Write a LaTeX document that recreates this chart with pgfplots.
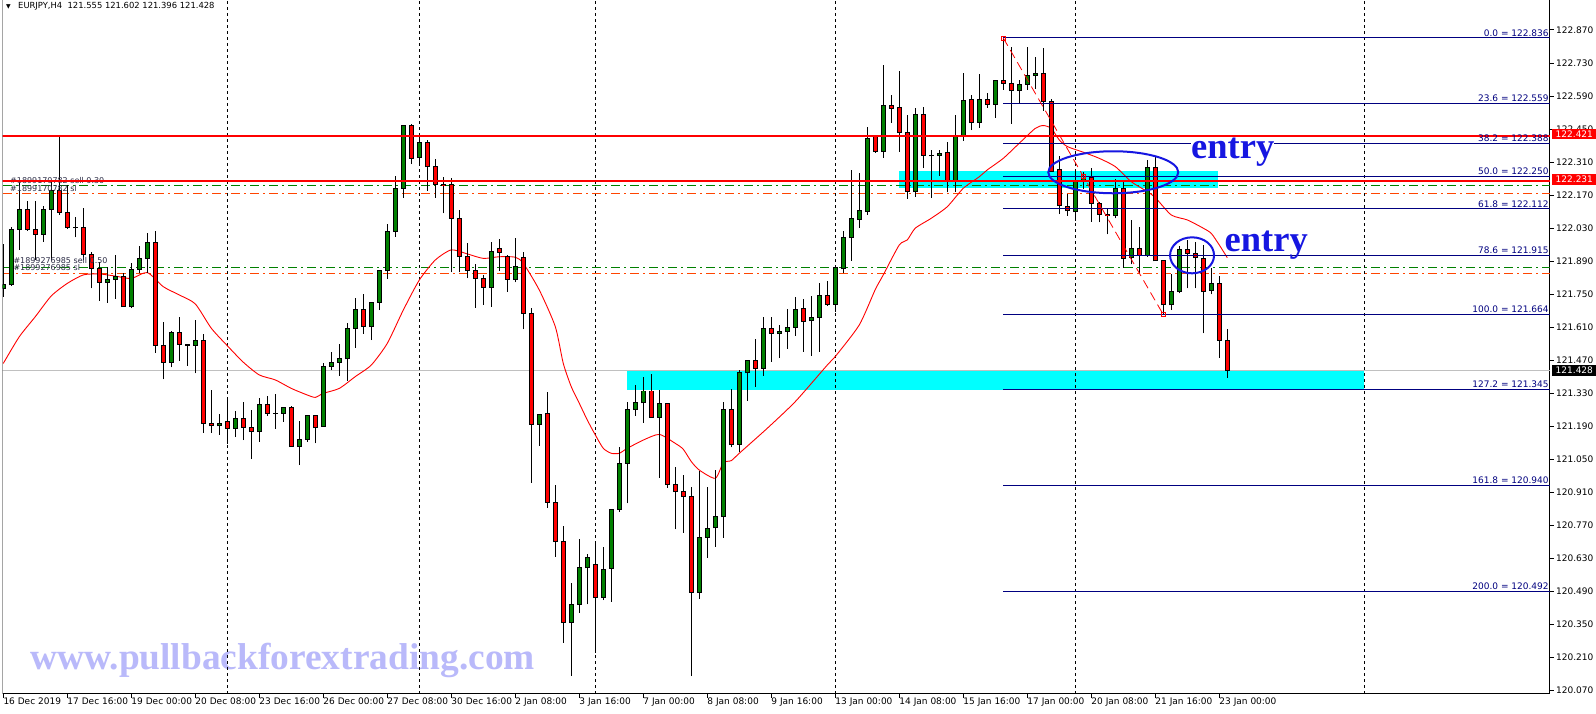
\documentclass[border=0pt]{standalone}
\usepackage{fontspec}
\setmainfont{DejaVu Sans}
\newfontfamily\serifLS{Liberation Serif}
\usepackage{pgfplots}
\usepackage{pgfplotstable}
\pgfplotsset{compat=1.18}
\definecolor{cgreen}{RGB}{0,128,0}
\definecolor{cred}{RGB}{255,0,0}
\definecolor{fibnavy}{RGB}{0,0,128}
\definecolor{oranged}{RGB}{255,69,0}
\definecolor{entryblue}{RGB}{22,22,225}
\definecolor{wmark}{RGB}{185,185,250}
\definecolor{lbltxt}{RGB}{45,45,70}
\definecolor{zonecyan}{RGB}{0,255,255}

\pgfplotstableread{
i O H L C
0 121.775 121.963 121.740 121.792
1 121.791 122.037 121.787 122.025
2 122.025 122.220 121.938 122.110
5 122.004 122.124 121.973 122.110
6 122.110 122.227 121.895 122.189
13 121.801 121.867 121.714 121.813
14 121.813 121.916 121.730 121.825
16 121.698 121.884 121.690 121.856
17 121.856 121.955 121.839 121.902
18 121.902 122.011 121.842 121.970
21 121.462 121.596 121.440 121.589
24 121.534 121.641 121.415 121.552
27 121.192 121.243 121.155 121.203
29 121.182 121.255 121.144 121.223
32 121.168 121.309 121.125 121.284
35 121.245 121.272 121.210 121.272
37 121.104 121.213 121.026 121.135
38 121.135 121.238 121.125 121.238
40 121.190 121.457 121.190 121.445
41 121.445 121.504 121.429 121.462
42 121.462 121.539 121.405 121.476
43 121.476 121.627 121.384 121.606
44 121.606 121.733 121.524 121.686
46 121.613 121.716 121.556 121.716
47 121.716 121.853 121.683 121.849
48 121.849 122.048 121.816 122.017
49 122.017 122.251 121.994 122.199
50 122.199 122.467 122.159 122.467
52 122.329 122.432 122.305 122.394
61 121.779 121.973 121.698 121.930
64 121.813 121.990 121.800 121.867
67 121.199 121.241 121.108 121.241
71 120.358 120.528 120.134 120.436
72 120.436 120.713 120.401 120.593
73 120.590 120.649 120.436 120.635
75 120.466 120.679 120.454 120.584
76 120.589 120.839 120.447 120.839
77 120.839 121.103 120.829 121.034
78 121.034 121.292 120.864 121.262
79 121.262 121.365 121.236 121.292
80 121.290 121.401 121.206 121.340
82 121.228 121.344 120.973 121.285
87 120.485 121.002 120.459 120.720
88 120.720 120.932 120.634 120.758
89 120.760 121.005 120.680 120.810
90 120.808 121.295 120.718 121.262
92 121.115 121.429 121.083 121.419
93 121.417 121.471 121.299 121.471
95 121.436 121.652 121.405 121.606
97 121.583 121.620 121.479 121.594
98 121.594 121.688 121.518 121.610
99 121.610 121.737 121.575 121.686
101 121.637 121.743 121.489 121.652
102 121.651 121.796 121.507 121.743
104 121.707 121.863 121.676 121.863
105 121.858 122.018 121.839 121.991
106 121.990 122.277 121.893 122.069
107 122.068 122.265 122.032 122.103
108 122.100 122.460 122.086 122.411
110 122.354 122.722 122.329 122.548
114 122.185 122.541 122.164 122.513
117 122.337 122.361 122.253 122.347
119 122.234 122.510 122.185 122.422
120 122.420 122.689 122.400 122.573
122 122.477 122.682 122.456 122.576
124 122.555 122.654 122.498 122.654
127 122.613 122.658 122.559 122.640
128 122.640 122.797 122.616 122.679
129 122.677 122.754 122.620 122.686
134 122.100 122.274 122.062 122.230
135 122.227 122.270 122.196 122.239
139 122.083 122.239 122.072 122.199
141 121.905 122.065 121.877 121.945
143 121.914 122.319 121.909 122.288
146 121.705 121.835 121.683 121.761
147 121.761 121.955 121.754 121.940
151 121.765 121.863 121.750 121.796
}\candlesUp

\pgfplotstableread{
i O H L C
3 122.110 122.147 122.020 122.025
4 122.025 122.147 121.895 122.004
7 122.189 122.425 122.086 122.097
8 122.097 122.213 122.027 122.032
9 122.032 122.076 121.991 122.031
10 122.031 122.114 121.895 121.919
11 121.919 121.931 121.775 121.860
12 121.860 121.888 121.723 121.801
15 121.825 121.839 121.698 121.698
19 121.970 122.018 121.503 121.534
20 121.534 121.633 121.389 121.462
22 121.589 121.652 121.469 121.538
23 121.538 121.540 121.446 121.534
25 121.552 121.580 121.163 121.203
26 121.203 121.344 121.163 121.192
28 121.210 121.309 121.115 121.182
30 121.223 121.295 121.132 121.186
31 121.186 121.260 121.051 121.168
33 121.284 121.319 121.236 121.245
34 121.245 121.327 121.179 121.245
36 121.272 121.275 121.104 121.104
39 121.238 121.240 121.118 121.185
45 121.686 121.751 121.582 121.613
51 122.467 122.470 122.302 122.326
53 122.394 122.404 122.188 122.291
54 122.291 122.322 122.159 122.217
55 122.217 122.246 122.093 122.212
56 122.217 122.241 121.843 122.072
57 122.072 122.107 121.843 121.909
58 121.909 121.966 121.818 121.850
59 121.850 121.878 121.693 121.818
60 121.818 121.832 121.705 121.779
62 121.945 121.985 121.850 121.929
63 121.912 121.915 121.761 121.813
65 121.907 121.931 121.601 121.669
66 121.669 121.690 120.952 121.199
68 121.245 121.334 120.846 120.868
69 120.868 120.942 120.638 120.702
70 120.702 120.768 120.273 120.358
74 120.605 120.704 120.231 120.466
81 121.340 121.412 121.228 121.228
83 121.285 121.288 120.930 120.945
84 120.945 121.017 120.754 120.913
85 120.916 120.984 120.740 120.892
86 120.895 120.935 120.132 120.487
91 121.262 121.349 121.101 121.115
94 121.471 121.560 121.358 121.436
96 121.606 121.652 121.464 121.584
100 121.690 121.729 121.507 121.634
103 121.743 121.806 121.702 121.707
109 122.418 122.420 122.350 122.354
111 122.549 122.595 122.477 122.538
112 122.542 122.698 122.354 122.435
113 122.435 122.510 122.154 122.185
115 122.513 122.544 122.284 122.340
116 122.340 122.361 122.160 122.336
118 122.352 122.394 122.182 122.234
121 122.576 122.595 122.446 122.477
123 122.576 122.602 122.541 122.555
125 122.654 122.836 122.616 122.644
126 122.644 122.797 122.472 122.613
130 122.686 122.792 122.527 122.566
131 122.566 122.578 122.270 122.270
132 122.280 122.337 122.090 122.126
133 122.121 122.174 122.083 122.103
136 122.246 122.284 122.058 122.135
137 122.135 122.142 122.055 122.089
138 122.089 122.117 122.004 122.083
140 122.199 122.224 121.863 121.902
142 121.945 122.034 121.839 121.916
144 122.288 122.332 121.891 121.891
145 121.891 121.891 121.664 121.705
148 121.940 121.980 121.775 121.924
149 121.924 121.973 121.775 121.905
150 121.902 121.959 121.584 121.761
152 121.796 121.827 121.481 121.556
153 121.555 121.602 121.396 121.428
}\candlesDown

\begin{document}
\begin{tikzpicture}
\useasboundingbox (0,0) rectangle (1596pt,714pt);
\fill[white] (0,0) rectangle (1596pt,714pt);
\begin{axis}[
  at={(2.7pt,20pt)}, anchor=south west,
  width=1547.3pt, height=694pt, scale only axis,
  xmin=-0.075, xmax=193.3375,
  ymin=120.0559, ymax=122.9971,
  axis x line*=bottom, axis y line*=right,
  axis line style={line width=1pt, black},
  tick align=outside, major tick length=4pt,
  tick style={line width=1pt, black},
  xtick={0,8,...,152},
  xticklabels={16 Dec 2019, 17 Dec 16:00, 19 Dec 00:00, 20 Dec 08:00, 23 Dec 16:00, 26 Dec 00:00, 27 Dec 08:00, 30 Dec 16:00, 2 Jan 08:00, 3 Jan 16:00, 7 Jan 00:00, 8 Jan 08:00, 9 Jan 16:00, 13 Jan 00:00, 14 Jan 08:00, 15 Jan 16:00, 17 Jan 00:00, 20 Jan 08:00, 21 Jan 16:00, 23 Jan 00:00},
  xticklabel style={anchor=north west, inner sep=0pt, xshift=0pt, font=\fontsize{9}{10}\selectfont},
  ytick={120.07,120.21,120.35,120.49,120.63,120.77,120.91,121.05,121.19,121.33,121.47,121.61,121.75,121.89,122.03,122.17,122.31,122.45,122.59,122.73,122.87},
  scaled y ticks=false,
  yticklabel style={anchor=west, inner sep=0pt, xshift=2pt, font=\fontsize{9}{10}\selectfont},
  /pgf/number format/fixed, /pgf/number format/fixed zerofill,
  /pgf/number format/precision=3, /pgf/number format/assume math mode=true,
]
% watermark
\node[anchor=base west, inner sep=0pt, text=wmark, font={\serifLS\bfseries\fontsize{37.4}{40}\selectfont}] at (axis cs:3.4,120.158) {www.pullbackforextrading.com};
% cyan zones
\addplot[fill=zonecyan, draw=none] coordinates {(77.96,121.344) (170.09,121.344) (170.09,121.426) (77.96,121.426)} --cycle;
\addplot[fill=zonecyan, draw=none] coordinates {(111.96,122.202) (151.9,122.202) (151.9,122.272) (111.96,122.272)} --cycle;
% period separators
\foreach \s in {28,52,74.05,104,134,170.1}{
  \edef\tmp{\noexpand\draw[black, line width=1pt, dash pattern=on 3pt off 3pt] (axis cs:\s,120.0559) -- (axis cs:\s,122.9971);}\tmp
}
% bid line
\addplot[color={rgb,255:red,192;green,192;blue,192}, line width=1pt] coordinates {(-1,121.428) (194,121.428)};
% order lines
\addplot[cgreen, line width=1pt, dash pattern=on 9pt off 4pt on 2pt off 4pt] coordinates {(0,122.209) (194,122.209)};
\addplot[oranged, line width=1pt, dash pattern=on 9pt off 4pt on 2pt off 4pt] coordinates {(0,122.175) (194,122.175)};
\addplot[cgreen, line width=1pt, dash pattern=on 9pt off 4pt on 2pt off 4pt] coordinates {(0,121.865) (194,121.865)};
\addplot[oranged, line width=1pt, dash pattern=on 9pt off 4pt on 2pt off 4pt] coordinates {(0,121.840) (194,121.840)};
% moving average
\addplot[red, line width=0.9pt, smooth, tension=0.4] coordinates {
(0,121.457) (2,121.570) (4,121.655) (6,121.743) (8,121.796) (10,121.832) (12,121.836) (14,121.827) (16,121.817) (18,121.842) (20,121.782) (22,121.747) (24,121.709) (26,121.606) (28,121.532) (30,121.462) (32,121.408) (34,121.387) (36,121.351) (38,121.323) (39,121.313) (40,121.330) (42,121.351) (44,121.401) (46,121.450) (48,121.542) (50,121.683) (52,121.810) (54,121.895) (56,121.938) (58,121.921) (60,121.902) (62,121.909) (64,121.907) (65,121.881) (67,121.768) (69,121.613) (70,121.457) (71,121.358) (72,121.288) (73,121.217) (74,121.154) (75,121.097) (76,121.076) (77,121.076) (78,121.097) (80,121.132) (82,121.156) (84,121.118) (85,121.093) (86,121.041) (87,121.005) (89,120.970) (90,121.036) (91,121.045) (92,121.076) (95.5,121.182) (99,121.295) (103,121.450) (104,121.486) (107,121.620) (109,121.770) (110,121.832) (112,121.959) (113,121.980) (114,122.030) (116,122.072) (118,122.121) (120,122.199) (122,122.248) (123,122.277) (125,122.326) (127,122.390) (129,122.453) (130,122.465) (131,122.453) (132,122.404) (133,122.376) (135,122.352) (137,122.326) (139,122.291) (141,122.227) (143,122.185) (144,122.160) (146,122.086) (148,122.065) (150,122.030) (151,122.008) (152,121.959) (153,121.905)};
% candles: wicks
\addplot[black, line width=1pt, mark=none, quiver={u=0, v=\thisrow{H}-\thisrow{L}}] table[x=i, y=L] {\candlesUp};
\addplot[black, line width=1pt, mark=none, quiver={u=0, v=\thisrow{H}-\thisrow{L}}] table[x=i, y=L] {\candlesDown};
% bodies outline
\addplot[black, line width=5pt, mark=none, quiver={u=0, v={abs(\thisrow{C}-\thisrow{O})+0.0042}}] table[x=i, y expr={min(\thisrow{O},\thisrow{C})-0.0021}] {\candlesUp};
\addplot[black, line width=5pt, mark=none, quiver={u=0, v={abs(\thisrow{C}-\thisrow{O})+0.0042}}] table[x=i, y expr={min(\thisrow{O},\thisrow{C})-0.0021}] {\candlesDown};
% bodies fill
\addplot[cgreen, line width=3pt, mark=none, quiver={u=0, v={max(abs(\thisrow{C}-\thisrow{O})-0.0042,0)}}] table[x=i, y expr={min(\thisrow{O},\thisrow{C})+0.0021}] {\candlesUp};
\addplot[cred, line width=3pt, mark=none, quiver={u=0, v={max(abs(\thisrow{C}-\thisrow{O})-0.0042,0)}}] table[x=i, y expr={min(\thisrow{O},\thisrow{C})+0.0021}] {\candlesDown};
% order labels
\node[anchor=west, inner sep=0pt, text=lbltxt, font=\fontsize{8}{9}\selectfont] at (axis cs:0.84,122.233) {\#1899170782 sell 0.30};
\node[anchor=west, inner sep=0pt, text=lbltxt, font=\fontsize{8}{9}\selectfont] at (axis cs:0.84,122.197) {\#1899170782 sl};
\node[anchor=west, inner sep=0pt, text=lbltxt, font=\fontsize{8}{9}\selectfont] at (axis cs:1.25,121.891) {\#1899276985 sell 0.50};
\node[anchor=west, inner sep=0pt, text=lbltxt, font=\fontsize{8}{9}\selectfont] at (axis cs:1.25,121.864) {\#1899276985 sl};
% horizontal red levels
\addplot[cred, line width=2.5pt] coordinates {(-1,122.421) (194,122.421)};
\addplot[cred, line width=2.5pt] coordinates {(-1,122.231) (194,122.231)};
% fibonacci levels
\pgfplotsinvokeforeach{122.836,122.559,122.388,122.250,122.112,121.915,121.664,121.345,120.940,120.492}{
  \addplot[fibnavy, line width=1pt] coordinates {(125,#1) (194,#1)};
}
\addplot[red, line width=0.8pt, dash pattern=on 9pt off 5pt] coordinates {(125,122.836) (145,121.664)};
\addplot[red, only marks, mark=square, mark size=2pt, mark options={solid, line width=0.8pt, fill=white}] coordinates {(125,122.836) (135,122.250) (145,121.664)};
\foreach \lv/\tx in {122.836/0.0 = 122.836, 122.559/23.6 = 122.559, 122.388/38.2 = 122.388, 122.250/50.0 = 122.250, 122.112/61.8 = 122.112, 121.915/78.6 = 121.915, 121.664/100.0 = 121.664, 121.345/127.2 = 121.345, 120.940/161.8 = 120.940, 120.492/200.0 = 120.492}{
  \edef\tmp{\noexpand\node[anchor=south east, inner sep=0pt, yshift=1.5pt, text=fibnavy, font=\noexpand\fontsize{9}{10}\noexpand\selectfont] at (axis cs:193.2,\lv) {\tx};}\tmp
}
% annotations
\draw[entryblue, line width=2pt] (axis cs:138.75,122.267) ellipse [x radius=65pt, y radius=21pt];
\draw[entryblue, line width=2pt] (axis cs:148.6,121.915) ellipse [x radius=22pt, y radius=18pt];
\node[anchor=base west, inner sep=0pt, fill=white, text height=17pt, text depth=0pt, text=entryblue, font={\serifLS\bfseries\fontsize{36.5}{40}\selectfont}] at (axis cs:148.46,122.326) {entry};
\node[anchor=base west, inner sep=0pt, text=entryblue, font={\serifLS\bfseries\fontsize{36.5}{40}\selectfont}] at (axis cs:152.65,121.930) {entry};
% left frame
\draw[black, line width=1pt] (rel axis cs:0,0) -- (rel axis cs:0,1);
\end{axis}
% price labels on the scale
\node[fill=red, text=white, anchor=west, inner xsep=3.5pt, inner ysep=2pt, font=\fontsize{9}{10}\selectfont] at (1552pt,580pt) {122.421};
\node[fill=red, text=white, anchor=west, inner xsep=3.5pt, inner ysep=2pt, font=\fontsize{9}{10}\selectfont] at (1552pt,534.3pt) {122.231};
\node[fill=black, text=white, anchor=west, inner xsep=3.5pt, inner ysep=2pt, font=\fontsize{9}{10}\selectfont] at (1552pt,343.5pt) {121.428};
% header
\node[anchor=west, inner sep=0pt, font=\fontsize{6}{6}\selectfont] at (6pt,707.5pt) {▼};
\node[anchor=west, inner sep=0pt, font=\fontsize{8.4}{9}\selectfont] at (18pt,707.5pt) {EURJPY,H4\ \ 121.555 121.602 121.396 121.428};
\end{tikzpicture}
\end{document}
